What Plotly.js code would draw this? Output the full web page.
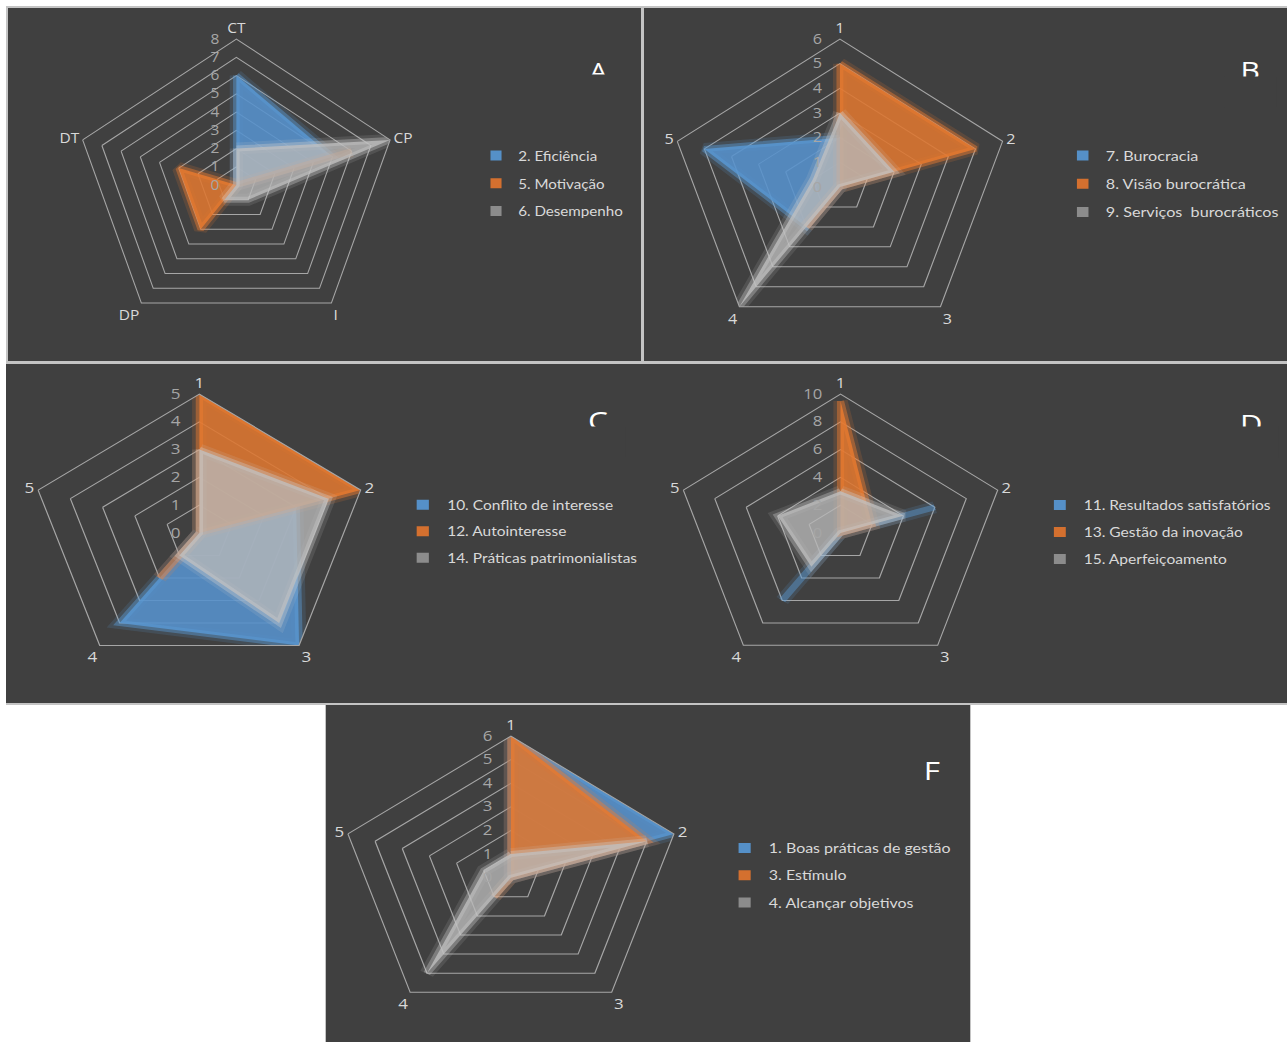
<!DOCTYPE html>
<html><head><meta charset="utf-8">
<script src="https://cdn.plot.ly/plotly-3.0.1.min.js"></script>
<style>
html,body{margin:0;padding:0;background:#ffffff;}
body{width:1287px;height:1042px;overflow:hidden;position:relative;}
.frame{position:absolute;background:#c4c4c4;}
.panel{position:absolute;background:#404040;overflow:hidden;}
.inner{position:absolute;left:0;top:0;transform-origin:0 0;}
</style></head>
<body>
<div class="frame" style="left:6px;top:6px;width:1281px;height:699px;"></div>
<div class="frame" style="left:325px;top:703px;width:646px;height:339px;"></div>
<div id="pA" class="panel"><div id="A" class="inner"></div></div>
<div id="pB" class="panel"><div id="B" class="inner"></div></div>
<div id="pC" class="panel"><div id="C" class="inner"></div></div>
<div id="pD" class="panel"><div id="D" class="inner"></div></div>
<div id="pF" class="panel"><div id="F" class="inner"></div></div>
<script>
// ---------------- DATA ----------------
const axesA = ['CT', 'CP', 'I', 'DP', 'DT'];
const axesNum = ['1', '2', '3', '4', '5'];

// Panel A
const namesA = ['2. Eficiência', '5. Motivação', '6. Desempenho'];
const eficiencia = [6, 5, 0, 0, 0];
const motivacao = [0, 6, 0, 3, 3];
const desempenho = [2, 8, 1, 1, 0];

// Panel B
const namesB = ['7. Burocracia', '8. Visão burocrática', '9. Serviços  burocráticos'];
const burocracia = [2, 0, 0, 2, 5];
const visaoBurocratica = [5, 5, 0, 2, 0];
const servicosBurocraticos = [3, 2, 0, 6, 1];

// Panel C
const namesC = ['10. Conflito de interesse', '12. Autointeresse', '14. Práticas patrimonialistas'];
const conflitoInteresse = [0, 3, 5, 4, 0];
const autointeresse = [5, 5, 0, 2, 0];
const praticasPatrimonialistas = [3, 4, 4, 1, 0];

// Panel D
const namesD = ['11. Resultados satisfatórios', '13. Gestão da inovação', '15. Aperfeiçoamento'];
const resultadosSatisfatorios = [0, 6, 0, 6, 0];
const gestaoInovacao = [9.5, 2, 0, 0, 0];
const aperfeicoamento = [3, 4, 0, 3, 4];

// Panel F
const namesF = ['1. Boas práticas de gestão', '3. Estímulo', '4. Alcançar objetivos'];
const boasPraticas = [6, 6, 0, 0, 0];
const estimulo = [6, 5, 0, 1, 0];
const alcancarObjetivos = [1, 5, 0, 5, 1];

const panelLetters = ['A', 'B', 'C', 'D', 'F'];
const radialMax = [8, 6, 5, 10, 6];
const radialStep = [1, 1, 1, 2, 1];

// ---------------- STYLE / LAYOUT ----------------
const BG = '#404040';
const STY = [
  {fill: 'rgba(86,146,205,0.88)', glow: 'rgba(91,155,213,0.45)', halo: 'rgba(91,155,213,0.16)', legend: '#5590c8'},
  {fill: 'rgba(222,118,48,0.88)', glow: 'rgba(237,125,49,0.45)', halo: 'rgba(237,125,49,0.16)', legend: '#d4702f'},
  {fill: 'rgba(185,185,185,0.78)', glow: 'rgba(205,205,205,0.35)', halo: 'rgba(205,205,205,0.13)', legend: '#8c8c8c'}
];
const GEOM = [
  {id: 'A', ox: 8, oy: 8, W: 633, H: 353, s: 1.107, cx: 236.3, cy: 185, R: 146, legX: 518, legY: 156, legFont: 13.7, letX: 598, letTop: 61, clip: 73.5},
  {id: 'B', ox: 644, oy: 8, W: 643, H: 353, s: 1.156, cx: 840, cy: 187, R: 148, legX: 1106, legY: 156, legFont: 14, letX: 1251, letTop: 60, clip: 76},
  {id: 'C', ox: 6, oy: 364, W: 639, H: 339, s: 1.22, cx: 199.3, cy: 533, R: 139, legX: 447, legY: 506, legFont: 12.7, letX: 598, letTop: 410, clip: 426},
  {id: 'D', ox: 645, oy: 364, W: 642, H: 339, s: 1.19, cx: 840.7, cy: 533, R: 139, legX: 1084, legY: 506, legFont: 13.1, letX: 1252, letTop: 413, clip: 426},
  {id: 'F', ox: 326, oy: 705, W: 644, H: 337, s: 1.21, cx: 511, cy: 877.7, R: 141.7, legX: 769, legY: 849, legFont: 13.2, letX: 932, letTop: 760, clip: null}
];

const closeLoop = a => a.concat([a[0]]);

function buildPanel(i, cats, names, seriesList) {
  const g = GEOM[i];
  const Wp = g.W / g.s;
  const pane = document.getElementById('p' + g.id);
  pane.style.left = g.ox + 'px'; pane.style.top = g.oy + 'px';
  pane.style.width = g.W + 'px'; pane.style.height = g.H + 'px';
  const div = document.getElementById(g.id);
  div.style.width = Wp + 'px'; div.style.height = g.H + 'px';
  div.style.transform = 'scaleX(' + g.s + ')';

  const traces = [];
  seriesList.forEach((vals, k) => {
    // soft outer halo
    traces.push({
      type: 'scatterpolar', r: closeLoop(vals), theta: closeLoop(cats),
      mode: 'lines', line: {color: STY[k].halo, width: 12, shape: 'linear'},
      showlegend: false, hoverinfo: 'skip'
    });
    // filled area with inner glow edge
    traces.push({
      type: 'scatterpolar', r: closeLoop(vals), theta: closeLoop(cats),
      mode: 'lines', fill: 'toself', fillcolor: STY[k].fill,
      line: {color: STY[k].glow, width: 6, shape: 'linear'},
      showlegend: false, hoverinfo: 'skip'
    });
  });
  // legend swatches (no visible marks: r is null)
  seriesList.forEach((vals, k) => {
    traces.push({
      type: 'scatterpolar', r: [null], theta: [null], mode: 'markers', name: names[k],
      legendgroup: 'g' + k, showlegend: true,
      marker: {symbol: 'square', size: 10, color: STY[k].legend}
    });
  });

  const cxp = (g.cx - g.ox) / g.s;
  const cyl = g.cy - g.oy;
  const anns = [{
    text: panelLetters[i], xref: 'paper', yref: 'paper',
    x: (g.letX - g.ox) / g.W, y: 1 - (g.letTop - g.oy - 10) / g.H,
    xanchor: 'center', yanchor: 'top', showarrow: false,
    font: {family: 'Open Sans, sans-serif', size: 26, color: '#ffffff'}
  }];
  if (g.clip) {
    anns.push({
      text: ' ', xref: 'paper', yref: 'paper',
      x: (g.letX - g.ox) / g.W, y: 1 - (g.clip - g.oy) / g.H,
      xanchor: 'center', yanchor: 'top', showarrow: false,
      width: 44, height: 30, bgcolor: BG, borderpad: 0
    });
  }

  const layout = {
    width: Wp, height: g.H,
    margin: {l: 0, r: 0, t: 0, b: 0, autoexpand: false},
    paper_bgcolor: BG, plot_bgcolor: BG,
    showlegend: true,
    legend: {
      x: ((g.legX - g.ox) / g.s - 40) / Wp, xanchor: 'left',
      y: 1 - (g.legY - g.oy - 16) / g.H, yanchor: 'top',
      bgcolor: 'rgba(0,0,0,0)', borderwidth: 0,
      font: {family: 'Lato, sans-serif', size: g.legFont, color: '#d9d9d9'},
      tracegroupgap: 7, traceorder: 'grouped'
    },
    polar: {
      domain: {
        x: [(cxp - g.R) / Wp, (cxp + g.R) / Wp],
        y: [1 - (cyl + g.R) / g.H, 1 - (cyl - g.R) / g.H]
      },
      bgcolor: BG, gridshape: 'linear', hole: 0,
      angularaxis: {
        type: 'category', categoryarray: cats, categoryorder: 'array',
        rotation: 90, direction: 'clockwise',
        showgrid: false, showline: true, linecolor: '#a6a6a6', linewidth: 1,
        ticks: '', tickfont: {family: 'Open Sans, sans-serif', size: 14, color: '#d9d9d9'}
      },
      radialaxis: {
        range: [0, radialMax[i]], dtick: radialStep[i], tick0: 0,
        angle: 90, side: 'counterclockwise', tickangle: 90,
        showline: false, ticks: 'outside', ticklen: 10, tickcolor: 'rgba(0,0,0,0)',
        showgrid: true, gridcolor: '#a6a6a6', gridwidth: 1,
        tickfont: {family: 'Open Sans, sans-serif', size: 14, color: '#a6a6a6'}
      }
    },
    annotations: anns
  };
  Plotly.newPlot(div, traces, layout, {displayModeBar: false, staticPlot: true});
}

buildPanel(0, axesA, namesA, [eficiencia, motivacao, desempenho]);
buildPanel(1, axesNum, namesB, [burocracia, visaoBurocratica, servicosBurocraticos]);
buildPanel(2, axesNum, namesC, [conflitoInteresse, autointeresse, praticasPatrimonialistas]);
buildPanel(3, axesNum, namesD, [resultadosSatisfatorios, gestaoInovacao, aperfeicoamento]);
buildPanel(4, axesNum, namesF, [boasPraticas, estimulo, alcancarObjetivos]);
</script>
</body></html>
